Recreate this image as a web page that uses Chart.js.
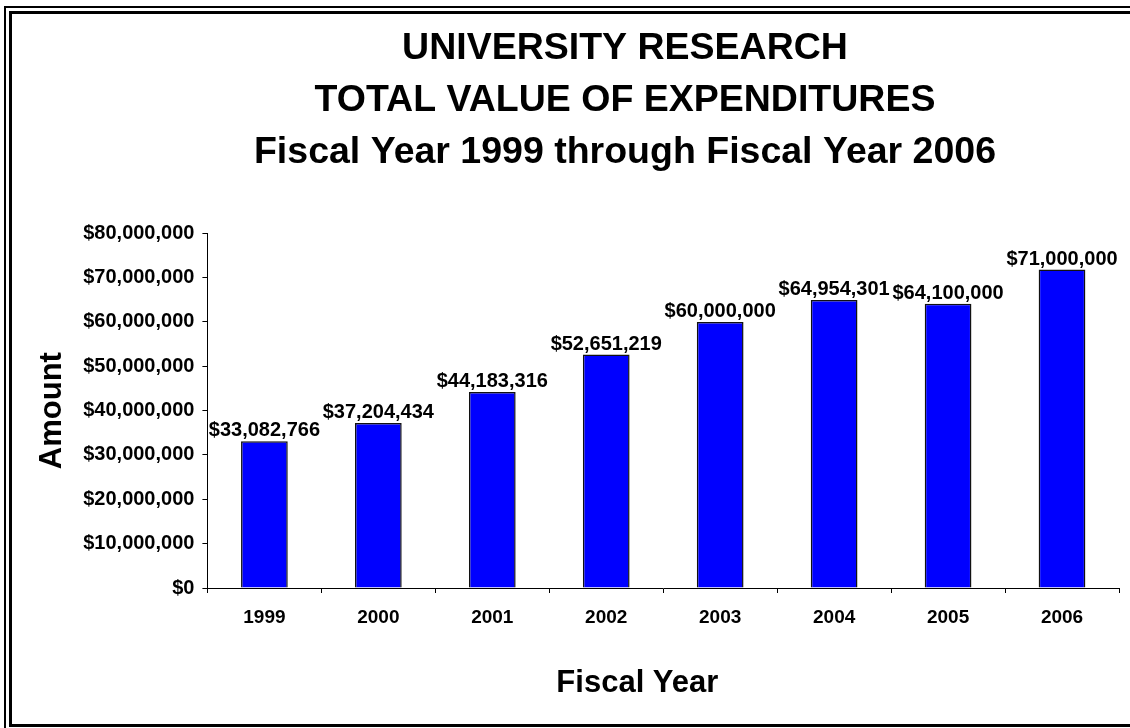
<!DOCTYPE html>
<html>
<head>
<meta charset="utf-8">
<script src="https://cdn.jsdelivr.net/npm/chart.js@4.4.1/dist/chart.umd.min.js"></script>
<style>
  html, body { margin: 0; padding: 0; background: #fff; overflow: hidden; }
  #stage { position: relative; width: 1130px; height: 728px; overflow: hidden; }
  #frame-outer { position: absolute; left: 4px; top: 6px; width: 1242px; height: 740px; border: 2px solid #000; box-sizing: border-box; }
  #frame-inner { position: absolute; left: 9px; top: 11px; width: 1232px; height: 716px; border: 3px solid #000; box-sizing: border-box; }
  #chart { position: absolute; left: 0; top: 0; }
</style>
</head>
<body>
<div id="stage">
  <div id="frame-outer"></div>
  <div id="frame-inner"></div>
  <canvas id="chart" width="1250" height="728"></canvas>
</div>
<script>
// Dados
const fiscalYears = ["1999", "2000", "2001", "2002", "2003", "2004", "2005", "2006"];
// altura das barras (a de 2006 fica um pouco acima do rótulo impresso)
const expenditures = [33082766, 37204434, 44183316, 52651219, 60000000, 64954301, 64100000, 71800000];
// rótulos impressos acima de cada barra, como aparecem no original
const valueLabels = ["$33,082,766", "$37,204,434", "$44,183,316", "$52,651,219",
  "$60,000,000", "$64,954,301", "$64,100,000", "$71,000,000"];
const titleLines = ["UNIVERSITY RESEARCH", "TOTAL VALUE OF EXPENDITURES", "Fiscal Year 1999 through Fiscal Year 2006"];

const FONT = "'Liberation Sans', Arial, Helvetica, sans-serif";
const INK = "#000";

function money(v) {
  return "$" + Number(v).toLocaleString("en-US");
}

// escreve o valor acima de cada barra (sem plugin de datalabels disponível)
const barValueLabels = {
  id: "barValueLabels",
  afterDatasetsDraw(chart) {
    const { ctx } = chart;
    const meta = chart.getDatasetMeta(0);
    ctx.save();
    ctx.font = `bold 20px ${FONT}`;
    ctx.fillStyle = INK;
    ctx.textAlign = "center";
    ctx.textBaseline = "alphabetic";
    meta.data.forEach((bar, i) => {
      ctx.fillText(valueLabels[i], bar.x, bar.y - 5);
    });
    ctx.restore();
  },
};

new Chart(document.getElementById("chart"), {
  type: "bar",
  data: {
    labels: fiscalYears,
    datasets: [{
      label: "Amount",
      data: expenditures,
      backgroundColor: "#0000ff",
      borderColor: "#111",
      borderWidth: 1.5,
      categoryPercentage: 1,
      barPercentage: 0.41,
    }],
  },
  options: {
    responsive: false,
    devicePixelRatio: 1,
    animation: false,
    layout: { padding: { left: 34, right: 34, top: 10, bottom: 16 } },
    plugins: {
      legend: { display: false },
      tooltip: { enabled: false },
      title: {
        display: true,
        text: titleLines,
        color: INK,
        font: { family: FONT, size: 37.5, weight: "bold", lineHeight: 1.38 },
        padding: { top: 13, bottom: 55 },
      },
    },
    scales: {
      y: {
        min: 0,
        max: 80000000,
        ticks: {
          stepSize: 10000000,
          color: INK,
          padding: 8,
          font: { family: FONT, size: 20, weight: "bold" },
          callback: (v) => money(v),
        },
        grid: { drawOnChartArea: false, tickLength: 5, color: INK },
        border: { display: true, color: INK, width: 1 },
        title: {
          display: true,
          text: "Amount",
          color: INK,
          font: { family: FONT, size: 31, weight: "bold" },
          padding: { top: 0, bottom: 4 },
        },
      },
      // eixo vazio à direita: só reserva o espaço que o gráfico original
      // deixa depois da última barra, mantendo o título centrado na moldura
      spacer: {
        type: "linear",
        position: "right",
        display: true,
        grid: { display: false },
        border: { display: false },
        ticks: { display: false },
        afterFit: (scale) => { scale.width = 97; },
      },
      x: {
        ticks: {
          color: INK,
          padding: 13,
          font: { family: FONT, size: 19, weight: "bold" },
        },
        grid: { drawOnChartArea: false, tickLength: 5, color: INK, offset: true },
        border: { display: true, color: INK, width: 1 },
        title: {
          display: true,
          // no original o título fica um pouco à esquerda do centro do eixo;
          // os espaços no fim empurram o texto centrado para a esquerda
          text: "Fiscal Year      ",
          color: INK,
          font: { family: FONT, size: 31, weight: "bold" },
          padding: { top: 23, bottom: 10 },
        },
      },
    },
  },
  plugins: [barValueLabels],
});
</script>
</body>
</html>
